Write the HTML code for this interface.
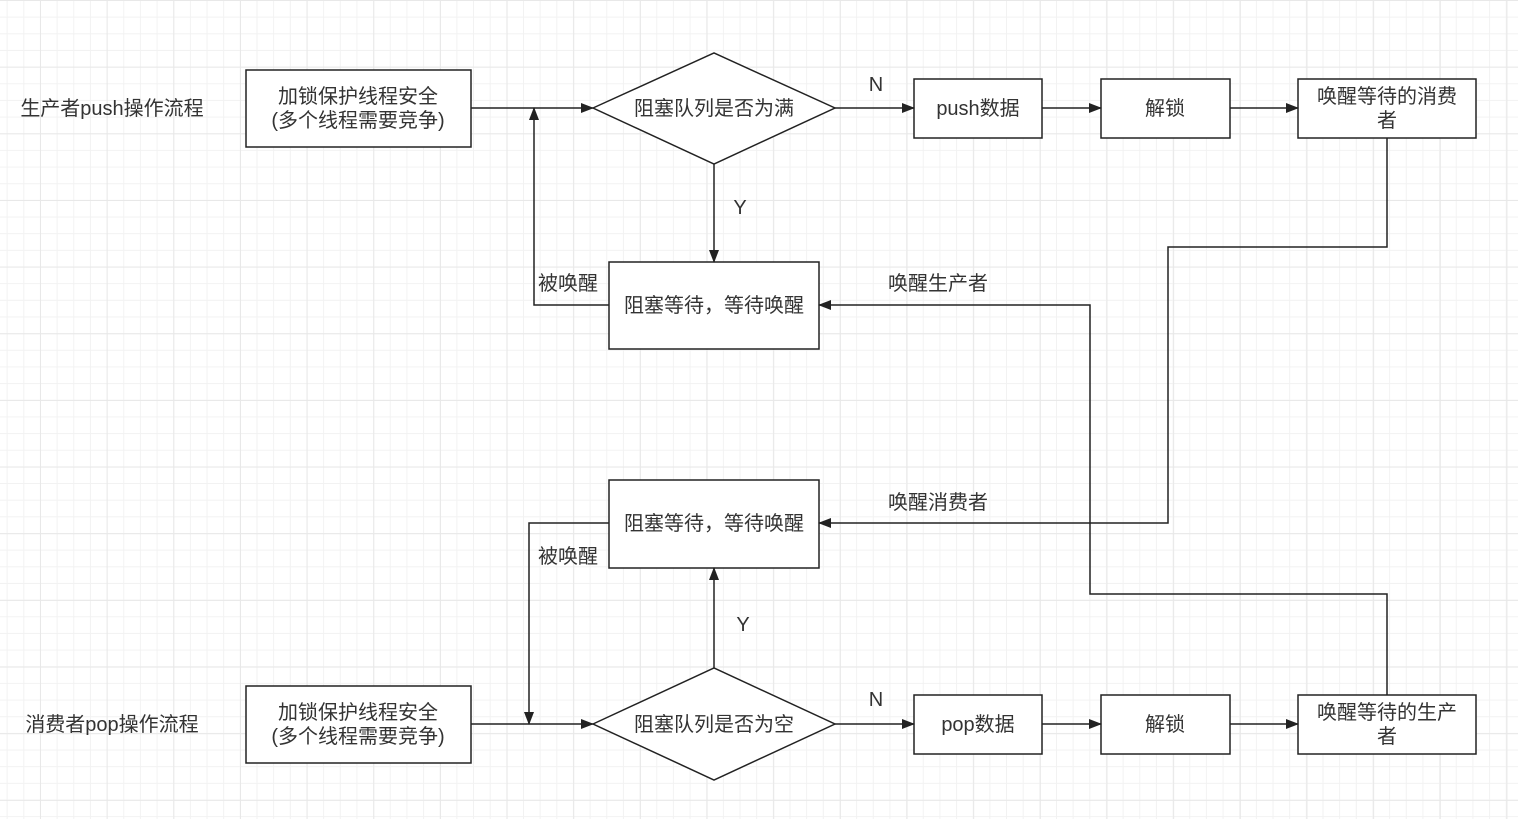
<!DOCTYPE html>
<html><head><meta charset="utf-8"><style>
html,body{margin:0;padding:0}
body{width:1518px;height:819px;overflow:hidden;background-color:#fff;
background-image:
linear-gradient(to right,#e8e8e8 1px,transparent 1px),
linear-gradient(to bottom,#e8e8e8 1px,transparent 1px),
linear-gradient(to right,#f2f2f2 1px,transparent 1px),
linear-gradient(to bottom,#f2f2f2 1px,transparent 1px);
background-size:66.67px 66.67px,66.67px 66.67px,16.667px 16.667px,16.667px 16.667px;
background-position:40px 0,0 0,6.67px 0,0 0;}
svg{position:absolute;left:0;top:0}
text{font-family:"Liberation Sans","Noto Sans CJK SC",sans-serif;font-size:20px;fill:#333;text-anchor:middle;dominant-baseline:central}
</style></head><body>
<svg width="1518" height="819" viewBox="0 0 1518 819">
<defs><marker id="a" markerWidth="13" markerHeight="10" refX="12" refY="5" orient="auto" markerUnits="userSpaceOnUse"><path d="M0,0 L13,5 L0,10 Z" fill="#222"/></marker></defs>
<g fill="#fff" stroke="#222" stroke-width="1.5">
<rect x="246" y="70" width="225" height="77"/>
<polygon points="593,108 714,53 835,108 714,164"/>
<rect x="609" y="262" width="210" height="87"/>
<rect x="914" y="79" width="128" height="59"/>
<rect x="1101" y="79" width="129" height="59"/>
<rect x="1298" y="79" width="178" height="59"/>
<rect x="246" y="686" width="225" height="77"/>
<polygon points="593,724 714,668 835,724 714,780"/>
<rect x="609" y="480" width="210" height="88"/>
<rect x="914" y="695" width="128" height="59"/>
<rect x="1101" y="695" width="129" height="59"/>
<rect x="1298" y="695" width="178" height="59"/>
</g>
<g fill="none" stroke="#222" stroke-width="1.5" marker-end="url(#a)">
<path d="M471,108 H593"/>
<path d="M714,164 V262"/>
<path d="M609,305 H534 V108"/>
<path d="M835,108 H914"/>
<path d="M1042,108 H1101"/>
<path d="M1230,108 H1298"/>
<path d="M1387,138 V247 H1168 V523 H819"/>
<path d="M1387,695 V594 H1090 V305 H819"/>
<path d="M471,724 H593"/>
<path d="M714,668 V568"/>
<path d="M609,523 H529 V724"/>
<path d="M835,724 H914"/>
<path d="M1042,724 H1101"/>
<path d="M1230,724 H1298"/>
</g>
<text x="112" y="109">生产者push操作流程</text>
<text x="358" y="97">加锁保护线程安全</text>
<text x="358" y="121">(多个线程需要竞争)</text>
<text x="714" y="109">阻塞队列是否为满</text>
<text x="740" y="208">Y</text>
<text x="714" y="306">阻塞等待，等待唤醒</text>
<text x="568" y="284">被唤醒</text>
<text x="876" y="85">N</text>
<text x="978" y="109">push数据</text>
<text x="1165" y="109">解锁</text>
<text x="1387" y="97">唤醒等待的消费</text>
<text x="1387" y="121">者</text>
<text x="938" y="284">唤醒生产者</text>
<text x="938" y="503">唤醒消费者</text>
<text x="112" y="725">消费者pop操作流程</text>
<text x="358" y="713">加锁保护线程安全</text>
<text x="358" y="737">(多个线程需要竞争)</text>
<text x="714" y="725">阻塞队列是否为空</text>
<text x="743" y="625">Y</text>
<text x="714" y="524">阻塞等待，等待唤醒</text>
<text x="568" y="557">被唤醒</text>
<text x="876" y="700">N</text>
<text x="978" y="725">pop数据</text>
<text x="1165" y="725">解锁</text>
<text x="1387" y="713">唤醒等待的生产</text>
<text x="1387" y="737">者</text>
</svg>
</body></html>
